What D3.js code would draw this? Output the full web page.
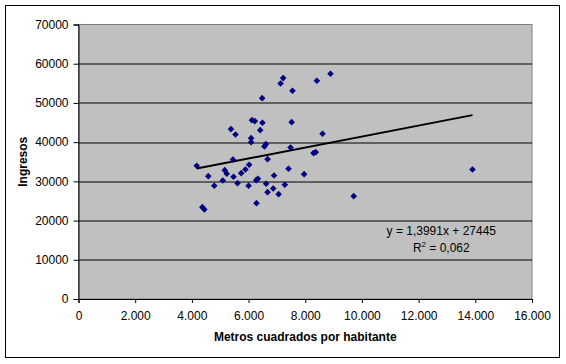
<!DOCTYPE html>
<html>
<head>
<meta charset="utf-8">
<script src="https://cdn.jsdelivr.net/npm/d3@7"></script>
<style>
  body { margin: 0; background: #fff; }
  svg { display: block; font-family: "Liberation Sans", Arial, sans-serif; }
</style>
</head>
<body>
<div id="chart"></div>
<script>
// Metros cuadrados por habitante (x) vs Ingresos (y)
const metros = [
  4170, 4370, 4440, 4580, 4790, 5090, 5160, 5230, 5380, 5450,
  5470, 5540, 5610, 5740, 5890, 6020, 6000, 6090, 6090, 6120,
  6220, 6280, 6270, 6330, 6410, 6480, 6490, 6560, 6610, 6620,
  6670, 6670, 6870, 6900, 7060, 7130, 7220, 7280, 7410, 7480,
  7520, 7550, 7960, 8290, 8370, 8410, 8610, 8890, 9710, 13900
];
const ingresos = [
  33980, 23420, 22830, 31330, 28880, 30230, 32860, 31940, 43320, 35590,
  31170, 41960, 29540, 32090, 33040, 34230, 28880, 41020, 40000, 45610,
  45360, 24440, 30310, 30660, 43060, 51220, 44950, 38900, 39490, 29390,
  35660, 27250, 28190, 31510, 26740, 54970, 56330, 29130, 33210, 38650,
  45100, 53110, 31840, 37200, 37450, 55660, 42140, 57450, 26230, 33040
];
const xTicks = [0, 2000, 4000, 6000, 8000, 10000, 12000, 14000, 16000];
const yTicks = [0, 10000, 20000, 30000, 40000, 50000, 60000, 70000];
const trendSlope = 1.3991;
const trendIntercept = 27445;
const trendLabel = "y = 1,3991x + 27445";
const r2Value = "0,062";

const width = 566, height = 364;
const margin = { top: 24.5, right: 34, bottom: 65, left: 78.5 };
const innerWidth = width - margin.left - margin.right;
const innerHeight = height - margin.top - margin.bottom;
const fontFamily = '"Liberation Sans", Arial, sans-serif';

const svg = d3.select('#chart').append('svg')
  .attr('width', width)
  .attr('height', height);

// outer chart border
svg.append('rect')
  .attr('x', 5.5).attr('y', 5.5)
  .attr('width', 554).attr('height', 352)
  .attr('fill', '#fff')
  .attr('stroke', '#000');

const g = svg.append('g')
  .attr('transform', `translate(${margin.left},${margin.top})`);

const x = d3.scaleLinear().domain([0, 16000]).range([0, innerWidth]);
const y = d3.scaleLinear().domain([0, 70000]).range([innerHeight, 0]);

// plot area
g.append('rect')
  .attr('width', innerWidth)
  .attr('height', innerHeight)
  .attr('fill', '#c0c0c0')
  .attr('stroke', '#808080');

// gridlines
g.selectAll('line.grid')
  .data(yTicks.filter(d => d > 0 && d < 70000))
  .enter().append('line')
  .attr('class', 'grid')
  .attr('x1', 0).attr('x2', innerWidth)
  .attr('y1', d => Math.round(y(d)) + 0.5)
  .attr('y2', d => Math.round(y(d)) + 0.5)
  .attr('stroke', '#000');

const fmtX = v => v === 0 ? '0' : d3.format(',')(v).replace(/,/g, '.');

// X axis
const xAxis = g.append('g')
  .attr('transform', `translate(0,${innerHeight})`)
  .call(d3.axisBottom(x).tickValues(xTicks).tickFormat(fmtX).tickSize(4).tickPadding(8));
xAxis.selectAll('text').attr('font-size', '12px').attr('fill', '#000')
  .attr('font-family', fontFamily);

// Y axis
const yAxis = g.append('g')
  .call(d3.axisLeft(y).tickValues(yTicks).tickFormat(d3.format('d')).tickSize(5).tickPadding(5));
yAxis.selectAll('text').attr('font-size', '12px').attr('fill', '#000')
  .attr('font-family', fontFamily);

g.selectAll('.domain, .tick line').attr('stroke', '#000');

// trend line
const xMin = d3.min(metros), xMax = d3.max(metros);
g.append('line')
  .attr('x1', x(xMin)).attr('y1', y(trendSlope * xMin + trendIntercept))
  .attr('x2', x(xMax)).attr('y2', y(trendSlope * xMax + trendIntercept))
  .attr('stroke', '#000')
  .attr('stroke-width', 2);

// points (square diamonds like Excel markers)
const r = 3.3;
g.selectAll('path.pt')
  .data(metros.map((m, i) => [m, ingresos[i]]))
  .enter().append('path')
  .attr('class', 'pt')
  .attr('d', `M0,${-r}L${r},0L0,${r}L${-r},0Z`)
  .attr('transform', d => `translate(${x(d[0])},${y(d[1])})`)
  .attr('fill', '#000080');

// equation label
g.append('text')
  .attr('x', x(12800))
  .attr('y', y(16300))
  .attr('text-anchor', 'middle')
  .attr('font-size', '12px')
  .attr('fill', '#000')
  .text(trendLabel);
const r2 = g.append('text')
  .attr('x', x(12800))
  .attr('y', y(12000))
  .attr('text-anchor', 'middle')
  .attr('font-size', '12px')
  .attr('fill', '#000');
r2.append('tspan').text('R');
r2.append('tspan').attr('font-size', '8px').attr('dy', -5).text('2');
r2.append('tspan').attr('dy', 5).text(' = ' + r2Value);

// axis titles
svg.append('text')
  .attr('x', margin.left + innerWidth / 2)
  .attr('y', 341)
  .attr('text-anchor', 'middle')
  .attr('font-size', '12px')
  .attr('font-weight', 'bold')
  .text('Metros cuadrados por habitante');

svg.append('text')
  .attr('transform', `translate(27,${margin.top + innerHeight / 2}) rotate(-90)`)
  .attr('text-anchor', 'middle')
  .attr('font-size', '12px')
  .attr('font-weight', 'bold')
  .text('Ingresos');
</script>
</body>
</html>
